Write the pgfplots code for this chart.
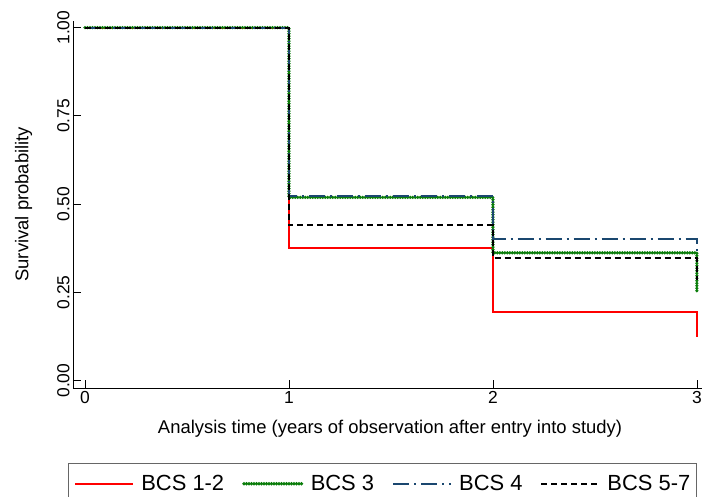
\documentclass[border=0pt]{standalone}
\usepackage{fontspec}
\setmainfont{Liberation Sans}
\usepackage{pgfplots}
\pgfplotsset{compat=1.18}
\usetikzlibrary{calc}
\definecolor{bcsred}{RGB}{255,0,0}
\definecolor{bcsgreen}{RGB}{10,125,10}
\definecolor{bcsnavy}{RGB}{26,71,111}

\begin{document}
\begin{tikzpicture}
\begin{axis}[
  name=km,
  scale only axis,
  width=629bp, height=367.4bp,
  xmin=-0.059, xmax=3.025,
  ymin=-0.021, ymax=1.02,
  axis x line*=bottom, axis y line*=left,
  xtick={0,1,2,3}, ytick={0,0.25,0.5,0.75,1},
  tick align=inside,
  major tick length=8bp,
  tick style={black, line width=0.8bp},
  axis line style={line width=0.9bp},
  /pgf/number format/assume math mode=true,
  yticklabel style={rotate=90, anchor=south,
    /pgf/number format/fixed, /pgf/number format/fixed zerofill,
    /pgf/number format/precision=2},
  ticklabel style={font=\fontsize{17.5}{20}\selectfont},
  label style={font=\fontsize{18.5}{22}\selectfont},
  xlabel={Analysis time (years of observation after entry into study)},
  ylabel={Survival probability},
  xlabel style={at={(axis description cs:0.504,-0.1225)}, anchor=base},
  ylabel style={at={(axis description cs:-0.0787,0.5)}, anchor=center},
  legend columns=4,
  legend style={at={(axis description cs:-0.008,-0.204)}, anchor=north west,
    draw=black!60, line width=0.8bp, font=\fontsize{22}{26}\selectfont,
    inner xsep=6bp, inner ysep=12bp,
    nodes={inner sep=0pt, anchor=west},
    column sep=7bp,
    /tikz/every even column/.append style={column sep=18bp}},
  legend image code/.code={\draw[#1] (0bp,0bp) -- (58bp,0bp);},
]
\addplot[bcsred, line width=2bp, const plot] coordinates {
  (0,1) (1,0.376) (2,0.195) (3,0.123)
};
\addlegendentry{BCS 1-2}

\addplot[bcsgreen, line width=3.6bp, line cap=round, dash pattern=on 0pt off 2.5bp, const plot] coordinates {
  (0,1) (1,0.519) (2,0.362) (3,0.252)
};
\addlegendentry{BCS 3}

\addplot[bcsnavy, line width=2bp, dash pattern=on 16bp off 5bp on 2bp off 5bp, const plot] coordinates {
  (0,1) (1,0.523) (2,0.401) (3,0.368)
};
\addlegendentry{BCS 4}

\addplot[black, line width=2bp, dash pattern=on 6bp off 4bp, const plot] coordinates {
  (0,1) (1,0.440) (2,0.347) (3,0.285)
};
\addlegendentry{BCS 5-7}
\end{axis}
\pgfresetboundingbox
\path[use as bounding box] ($(km.south west)+(-73bp,-109bp)$) rectangle ($(km.south west)+(629bp,388bp)$);
\end{tikzpicture}
\end{document}
